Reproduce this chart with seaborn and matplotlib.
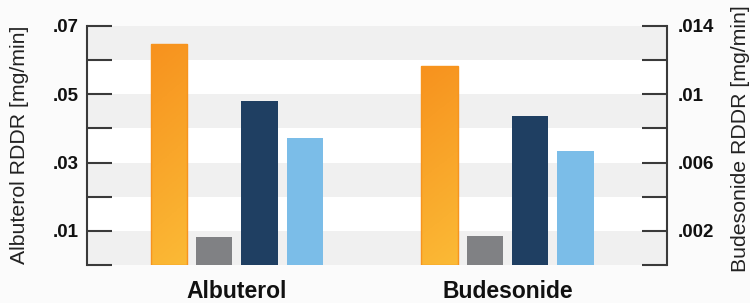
import numpy as np
import pandas as pd
import matplotlib.pyplot as plt
from matplotlib.colors import LinearSegmentedColormap
import seaborn as sns

# data (mg/min)
drugs = ["Albuterol", "Budesonide"]
series = ["Series 1", "Series 2", "Series 3", "Series 4"]
albuterol_rddr = [0.0647, 0.0082, 0.0479, 0.0371]      # left axis
budesonide_rddr = [0.01165, 0.0017, 0.0087, 0.00665]   # right axis
left_ticks = [0.01, 0.03, 0.05, 0.07]
right_ticks = [0.002, 0.006, 0.01, 0.014]
colors = ["#F7941E", "#808184", "#1F3F62", "#7BBDE8"]

sns.set_style("white")
plt.rcParams["font.family"] = ["Liberation Sans", "DejaVu Sans"]

df_alb = pd.DataFrame({"Drug": drugs[0], "Series": series, "RDDR": albuterol_rddr})
df_bud = pd.DataFrame({"Drug": drugs[1], "Series": series, "RDDR": budesonide_rddr})

fig = plt.figure(figsize=(7.5, 3.03), dpi=100, facecolor="#FBFBFB")
ax = fig.add_axes([87 / 750, 38 / 303, 580 / 750, 239 / 303])
ax.set_facecolor("white")
ax2 = ax.twinx()

sns.barplot(data=df_alb, x="Drug", y="RDDR", hue="Series", order=drugs,
            hue_order=series, palette=colors, saturation=1, width=0.67,
            gap=0.2, legend=False, linewidth=0, ax=ax)
sns.barplot(data=df_bud, x="Drug", y="RDDR", hue="Series", order=drugs,
            hue_order=series, palette=colors, saturation=1, width=0.67,
            gap=0.2, legend=False, linewidth=0, ax=ax2)

# orange bars get a gradient fill
cmap = LinearSegmentedColormap.from_list("orng", ["#F7921E", "#FBBA36"])
gy = np.linspace(0, 1, 128)[:, None]
gx = np.linspace(0, 1, 16)[None, :]
grad = 0.88 * gy + 0.12 * gx
for a in (ax, ax2):
    for bar in a.containers[0]:
        x0, w, h = bar.get_x(), bar.get_width(), bar.get_height()
        im = a.imshow(grad, cmap=cmap, extent=[x0, x0 + w, 0, h],
                      aspect="auto", origin="upper", zorder=bar.get_zorder())
        im.set_clip_path(bar)
        bar.set_facecolor("none")
        bar.set_edgecolor("#F7941E")
        bar.set_linewidth(1)
        bar.set_zorder(bar.get_zorder() + 0.1)

# alternating bands
for lo in [0.0, 0.02, 0.04, 0.06]:
    ax.axhspan(lo, lo + 0.01, color="#F0F0F0", lw=0, zorder=0)

ax.set_xlim(-0.5545, 1.59)
ax.set_ylim(0, 0.07)
ax2.set_ylim(0, 0.014)


def fmt(v, shown):
    if any(abs(v - s) < 1e-9 for s in shown):
        return f"{v:.3f}".rstrip("0").lstrip("0")
    return ""


lt = np.arange(0, 0.0701, 0.01)
rt = np.arange(0, 0.01401, 0.002)
ax.set_yticks(lt, [fmt(v, left_ticks) for v in lt])
ax2.set_yticks(rt, [fmt(v, right_ticks) for v in rt])

ax.tick_params(axis="y", direction="in", length=18, width=1.5, color="#3a3a3a",
               pad=6, labelsize=13.5, labelcolor="#111111")
ax2.tick_params(axis="y", direction="in", length=18, width=1.5, color="#3a3a3a",
                pad=8, labelsize=13.5, labelcolor="#111111")
ax.tick_params(axis="x", length=0, pad=11, labelsize=16.5, labelcolor="#111111")
for lbl in ax.get_yticklabels() + ax2.get_yticklabels() + ax.get_xticklabels():
    lbl.set_fontweight("bold")

for s in ["top", "right", "bottom"]:
    ax.spines[s].set_visible(False)
for s in ["top", "left", "bottom"]:
    ax2.spines[s].set_visible(False)
ax.spines["left"].set_color("#3a3a3a")
ax.spines["left"].set_linewidth(1.5)
ax2.spines["right"].set_color("#3a3a3a")
ax2.spines["right"].set_linewidth(1.5)

ax.set_xlabel("")
ax2.set_xlabel("")
ax.set_ylabel("Albuterol RDDR [mg/min]", fontsize=15.3, color="#222222")
ax.yaxis.set_label_coords(-0.10, 0.504)
ax2.set_ylabel("Budesonide RDDR [mg/min]", fontsize=15.3, color="#222222")
ax2.yaxis.set_label_coords(1.110, 0.527)

fig.savefig("out.png", dpi=100, facecolor=fig.get_facecolor())
